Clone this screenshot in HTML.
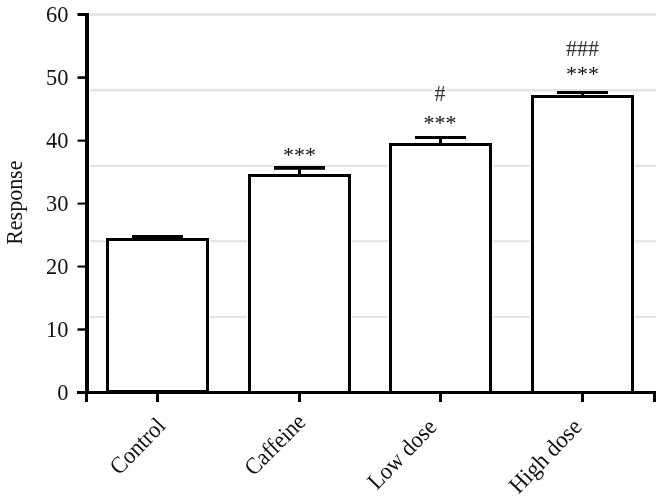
<!DOCTYPE html>
<html>
<head>
<meta charset="utf-8">
<title>Response chart</title>
<style>
html,body{margin:0;padding:0;background:#fff;}
body{width:662px;height:500px;overflow:hidden;}
svg{display:block;}
text{font-family:"Liberation Serif","Times New Roman",Times,serif;font-size:22px;fill:#111;}
.ann{fill:#111;} .hash{fill:#333;}
</style>
</head>
<body>
<svg width="662" height="500" viewBox="0 0 662 500">
<rect x="0" y="0" width="662" height="500" fill="#fff"/>
<!-- gridlines -->
<g fill="#e5e5e5">
<rect x="90" y="13" width="566" height="3"/>
<rect x="90" y="88.9" width="566" height="2.7"/>
<rect x="90" y="164.7" width="566" height="2.3"/>
<rect x="90" y="240.1" width="566" height="2.2"/>
<rect x="90" y="315.9" width="566" height="2.1"/>
</g>
<!-- bars -->
<g fill="#fff">
<rect x="105" y="237" width="105" height="156"/>
<rect x="247" y="173" width="105" height="220"/>
<rect x="388" y="142" width="105" height="251"/>
<rect x="530" y="94" width="105" height="299"/>
</g>
<g fill="#fff" stroke="#000" stroke-width="3" shape-rendering="crispEdges">
<rect x="107.5" y="239.5" width="100" height="152"/>
<rect x="249.5" y="175.5" width="100" height="217"/>
<rect x="390.5" y="144.5" width="100" height="248"/>
<rect x="532.5" y="96.5" width="100" height="296"/>
</g>
<!-- error bars -->
<g fill="#000">
<rect x="132" y="235" width="51" height="4"/>
<rect x="274" y="166" width="51" height="3.8"/>
<rect x="298" y="168" width="3" height="7"/>
<rect x="415" y="136" width="51" height="3"/>
<rect x="439" y="138" width="3" height="6"/>
<rect x="557" y="91" width="51" height="3"/>
<rect x="581" y="93" width="3" height="3"/>
</g>
<!-- axes -->
<g fill="#000">
<rect x="85" y="13" width="4" height="381"/>
<rect x="77" y="391" width="579" height="3"/>
<!-- y ticks -->
<rect x="77.5" y="13" width="8" height="3"/>
<rect x="77.5" y="76.3" width="8" height="2.6"/>
<rect x="77.5" y="139.6" width="8" height="2.1"/>
<rect x="77.5" y="202.6" width="8" height="2"/>
<rect x="77.5" y="265.5" width="8" height="2.1"/>
<rect x="77.5" y="328.3" width="8" height="2.4"/>
<!-- x ticks -->
<rect x="85" y="391" width="3" height="11"/>
<rect x="156" y="391" width="3" height="11"/>
<rect x="298" y="391" width="3" height="11"/>
<rect x="439" y="391" width="3" height="11"/>
<rect x="581" y="391" width="3" height="11"/>
<rect x="653" y="391" width="3" height="11"/>
</g>
<!-- y tick labels -->
<g text-anchor="end">
<text transform="translate(68.5,22) scale(1.02,1.08)">60</text>
<text transform="translate(68.5,85) scale(1.02,1.08)">50</text>
<text transform="translate(68.5,148) scale(1.02,1.08)">40</text>
<text transform="translate(68.5,211) scale(1.02,1.08)">30</text>
<text transform="translate(68.5,274) scale(1.02,1.08)">20</text>
<text transform="translate(68.5,337) scale(1.02,1.08)">10</text>
<text transform="translate(68.5,400) scale(1.02,1.08)">0</text>
</g>
<!-- y axis title -->
<text transform="translate(22,202.7) rotate(-90) scale(1,1.075)" text-anchor="middle">Response</text>
<!-- annotations -->
<rect x="432.5" y="84" width="14" height="20" fill="#fff"/>
<g text-anchor="middle" class="ann">
<text transform="translate(299.5,161.9)">***</text>
<text transform="translate(440,130)">***</text>
<text class="hash" transform="translate(440,101) scale(1,1.075)">#</text>
<text transform="translate(582.5,80.9)">***</text>
<text class="hash" transform="translate(582.5,56) scale(1,1.075)">###</text>
</g>
<!-- x labels -->
<g text-anchor="end">
<text transform="translate(166.7,427) rotate(-46) scale(1.015,1.075)">Control</text>
<text transform="translate(307,423.4) rotate(-45) scale(1,1.075)">Caffeine</text>
<text transform="translate(437.8,428) rotate(-46) scale(1.015,1.075)">Low dose</text>
<text transform="translate(583,428) rotate(-46) scale(1.035,1.075)">High dose</text>
</g>
</svg>
</body>
</html>
